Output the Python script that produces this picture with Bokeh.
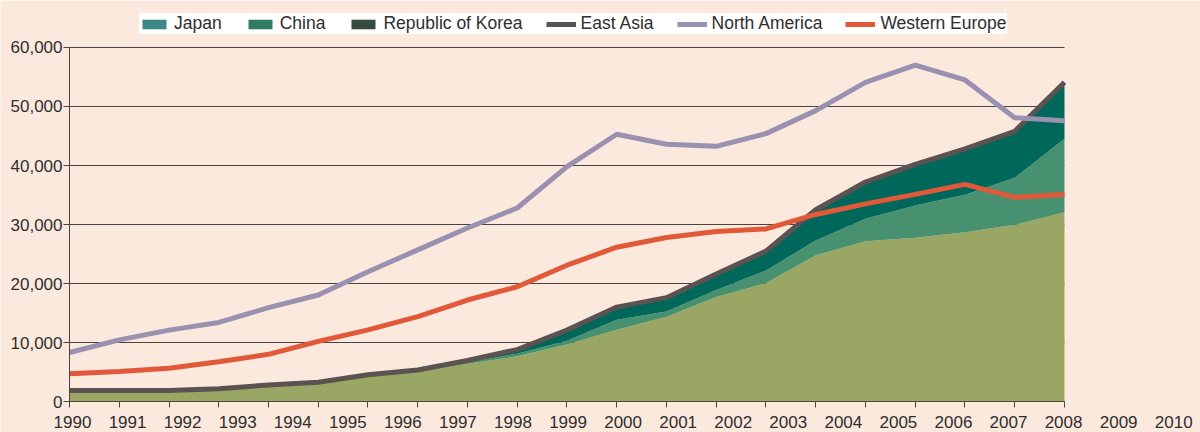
from bokeh.plotting import figure
from bokeh.models import (Range1d, LinearAxis, FixedTicker, NumeralTickFormatter,
                          Legend, LegendItem, ColumnDataSource)
from bokeh.embed import file_html
from bokeh.resources import INLINE

# ---------------- data ----------------
years = list(range(1990, 2011))                 # 21 data points
label_years = list(range(1990, 2011))           # tick labels shown under the axis
year_labels = [str(y) for y in label_years]
yticks = [0, 10000, 20000, 30000, 40000, 50000, 60000]

japan = [1700, 1700, 1700, 2000, 2600, 3100, 4350, 5150, 6400, 7650, 9650,
         12150, 14350, 17700, 20050, 24800, 27170, 27750, 28700, 29950, 32090]
china = [50, 50, 50, 50, 50, 50, 100, 100, 250, 450, 650,
         1700, 900, 1200, 2150, 2500, 3800, 5470, 6330, 7970, 12440]
korea = [100, 100, 100, 100, 150, 100, 100, 100, 300, 700, 1800,
         2150, 2350, 2700, 3300, 5200, 6230, 6980, 7770, 7880, 9570]
east_asia = [1850, 1850, 1850, 2150, 2800, 3250, 4550, 5350, 6950, 8800, 12100,
             16000, 17600, 21600, 25500, 32500, 37200, 40200, 42800, 45800, 54100]
north_america = [8300, 10450, 12100, 13400, 15900, 18050, 22000, 25700, 29400, 32800, 39800,
                 45300, 43600, 43250, 45400, 49300, 54100, 57000, 54500, 48100, 47600]
western_europe = [4700, 5100, 5650, 6750, 8000, 10200, 12150, 14400, 17200, 19450, 23100,
                  26150, 27800, 28800, 29250, 31700, 33500, 35100, 36800, 34600, 35100]

# ---------------- styles ----------------
BG = "#FCE9DD"
AX = "#4a4442"
TXT = "#2e2e2e"
FONT = "Liberation Sans"
AREA_COLORS = ["#9AA764", "#479070", "#00685A"]
LEGEND_COLORS = ["#3B8985", "#2F7B63", "#374B40"]

src = ColumnDataSource(dict(x=years, japan=japan, china=china, korea=korea,
                            ea=east_asia, na=north_america, we=western_europe))

# the frame fills the whole canvas; ranges place 1990..2010 / 0..60000 in the plot area
p = figure(width=1200, height=432,
           x_range=Range1d(1988.613, 2012.734), y_range=Range1d(-5254, 67966),
           x_axis_type=None, y_axis_type=None,
           output_backend="svg", toolbar_location=None,
           min_border=0,
           background_fill_color=BG, border_fill_color=BG, outline_line_color=None)
p.extra_x_ranges = {"lab": Range1d(1988.6923, 2010.4868)}

# legend-only swatches (zero-height areas, nothing visible in the plot)
r_jp = p.varea(x="x", y1="japan", y2="japan", source=src, fill_color=LEGEND_COLORS[0])
r_cn = p.varea(x="x", y1="japan", y2="japan", source=src, fill_color=LEGEND_COLORS[1])
r_kr = p.varea(x="x", y1="japan", y2="japan", source=src, fill_color=LEGEND_COLORS[2])

# horizontal grid lines, limited to the data span
p.segment(x0=years[0], x1=years[-1], y0=yticks, y1=yticks, line_color=AX, line_width=1)

# stacked areas
p.varea_stack(["japan", "china", "korea"], x="x", color=AREA_COLORS, source=src)

# lines
r_ea = p.line("x", "ea", source=src, line_color="#5B5252", line_width=5)
r_na = p.line("x", "na", source=src, line_color="#9A90B0", line_width=5)
r_we = p.line("x", "we", source=src, line_color="#E2593A", line_width=5)

legend = Legend(items=[LegendItem(label="Japan", renderers=[r_jp]),
                       LegendItem(label="China", renderers=[r_cn]),
                       LegendItem(label="Republic of Korea", renderers=[r_kr]),
                       LegendItem(label="East Asia", renderers=[r_ea]),
                       LegendItem(label="North America", renderers=[r_na]),
                       LegendItem(label="Western Europe", renderers=[r_we])],
                orientation="horizontal", location=(139, 398),
                background_fill_color="white", background_fill_alpha=1.0,
                border_line_color=None, padding=5, spacing=23, margin=0,
                glyph_width=30, glyph_height=12, label_standoff=5,
                label_text_font=FONT, label_text_font_size="17.5px",
                label_text_color=TXT)
p.add_layout(legend)

# y axis drawn at x = 1990
yaxis = LinearAxis(ticker=FixedTicker(ticks=yticks), bounds=(yticks[0], yticks[-1]),
                   fixed_location=years[0],
                   formatter=NumeralTickFormatter(format="0,0"),
                   axis_line_color=AX, major_tick_line_color=AX,
                   major_tick_out=6, major_tick_in=0, minor_tick_line_color=None,
                   major_label_standoff=1,
                   major_label_text_font=FONT, major_label_text_font_size="17px",
                   major_label_text_color=TXT)
p.add_layout(yaxis, "left")

# x axis: tick marks at data points, drawn at y = 0
tick_axis = LinearAxis(ticker=FixedTicker(ticks=[], minor_ticks=years),
                       bounds=(years[0], years[-1]), fixed_location=0,
                       axis_line_color=AX, major_tick_line_color=None,
                       major_tick_out=0, major_tick_in=0,
                       minor_tick_line_color=AX, minor_tick_out=6, minor_tick_in=0)
p.add_layout(tick_axis, "below")

# x axis: year labels
label_axis = LinearAxis(x_range_name="lab", ticker=FixedTicker(ticks=label_years),
                        fixed_location=0,
                        major_label_overrides={y: s for y, s in zip(label_years, year_labels)},
                        axis_line_color=None, major_tick_line_color=None,
                        major_tick_out=0, major_tick_in=0, minor_tick_line_color=None,
                        major_label_standoff=14,
                        major_label_text_font=FONT, major_label_text_font_size="17px",
                        major_label_text_color=TXT)
p.add_layout(label_axis, "below")

open("out.html", "w").write(file_html(p, INLINE))
